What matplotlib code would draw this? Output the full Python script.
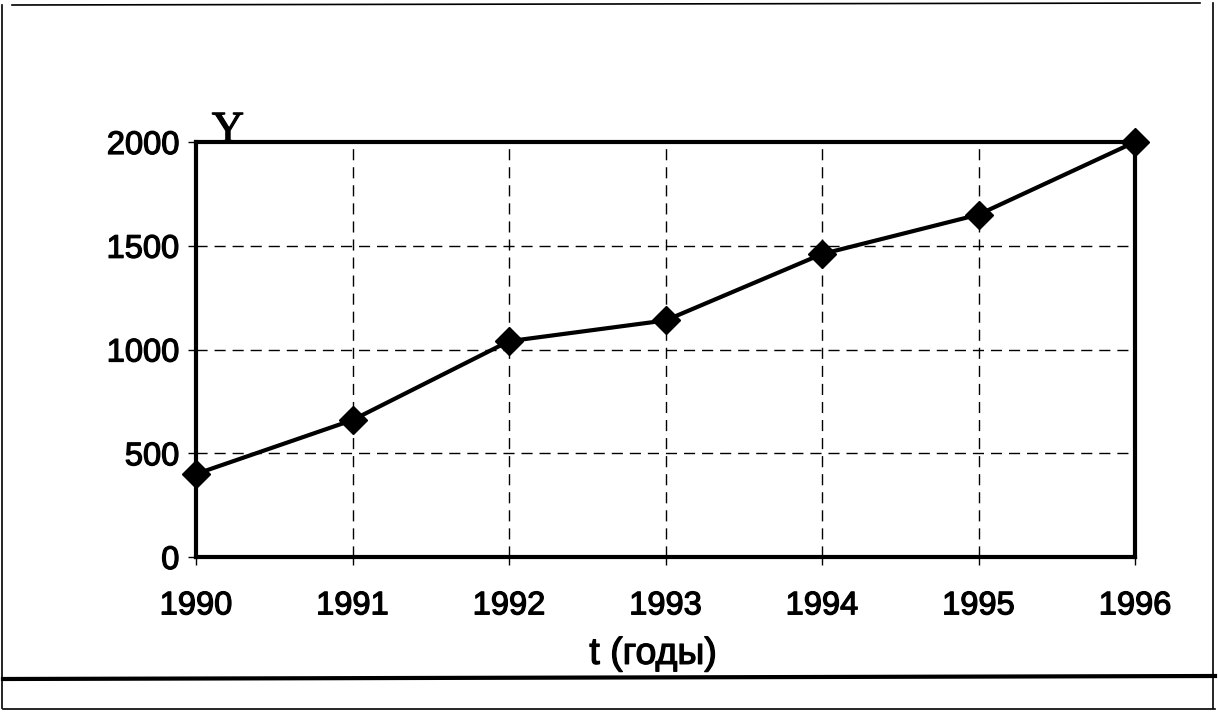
import matplotlib
matplotlib.use("Agg")
import matplotlib.pyplot as plt
import matplotlib.patheffects as pe
from matplotlib.lines import Line2D

years = [1990, 1991, 1992, 1993, 1994, 1995, 1996]
values = [400, 660, 1040, 1140, 1460, 1650, 2000]
y_ticks = [0, 500, 1000, 1500, 2000]
x_label = "t (годы)"
y_label = "Y"

plt.rcParams['font.family'] = ['Liberation Sans', 'DejaVu Sans']

fig = plt.figure(figsize=(12.18, 7.12), dpi=100)
ax = fig.add_axes([196/1218, 1-557/712, (1135-196)/1218, (557-142)/712])

ax.plot(years, values, color='black', linewidth=3, marker='D', markersize=14,
        markerfacecolor='black', markeredgecolor='black', zorder=5, clip_on=False)

ax.set_xlim(years[0], years[-1])
ax.set_ylim(0, 2000)
ax.set_xticks(years)
ax.set_yticks(y_ticks)
ax.grid(True, color='black', linestyle=(0, (8, 5)), linewidth=1.0)
ax.set_axisbelow(True)

for s in ax.spines.values():
    s.set_linewidth(3)
    s.set_color('black')

ax.tick_params(axis='x', direction='out', length=6, width=1, pad=18, labelsize=23.5)
ax.tick_params(axis='y', direction='out', length=6, width=1, pad=6, labelsize=23.5)

ax.set_xlabel(x_label, fontsize=27)
ax.xaxis.set_label_coords(0.487, -0.19)
ylab = ax.text(0.034, 1.0, y_label, transform=ax.transAxes, fontsize=32,
               family='Liberation Serif', ha='center', va='baseline')

heavy = [pe.withStroke(linewidth=0.9, foreground='black')]
for t in ax.get_xticklabels() + ax.get_yticklabels() + [ax.xaxis.label, ylab]:
    t.set_path_effects(heavy)

# scanned page decorations
W, H = 1218, 712
def fl(x0, y0, x1, y1, lw):
    fig.add_artist(Line2D([x0/W, x1/W], [1-y0/H, 1-y1/H], color='black',
                          linewidth=lw, transform=fig.transFigure))
fl(2, 5, 2, 708, 1.2)
fl(12, 5, 1200, 3, 1.2)
fl(1213, 3, 1213, 708, 1.2)
fl(3, 679, 1215, 676, 3)
fl(3, 709, 1215, 709, 1.2)

fig.savefig("out.png", dpi=100)
